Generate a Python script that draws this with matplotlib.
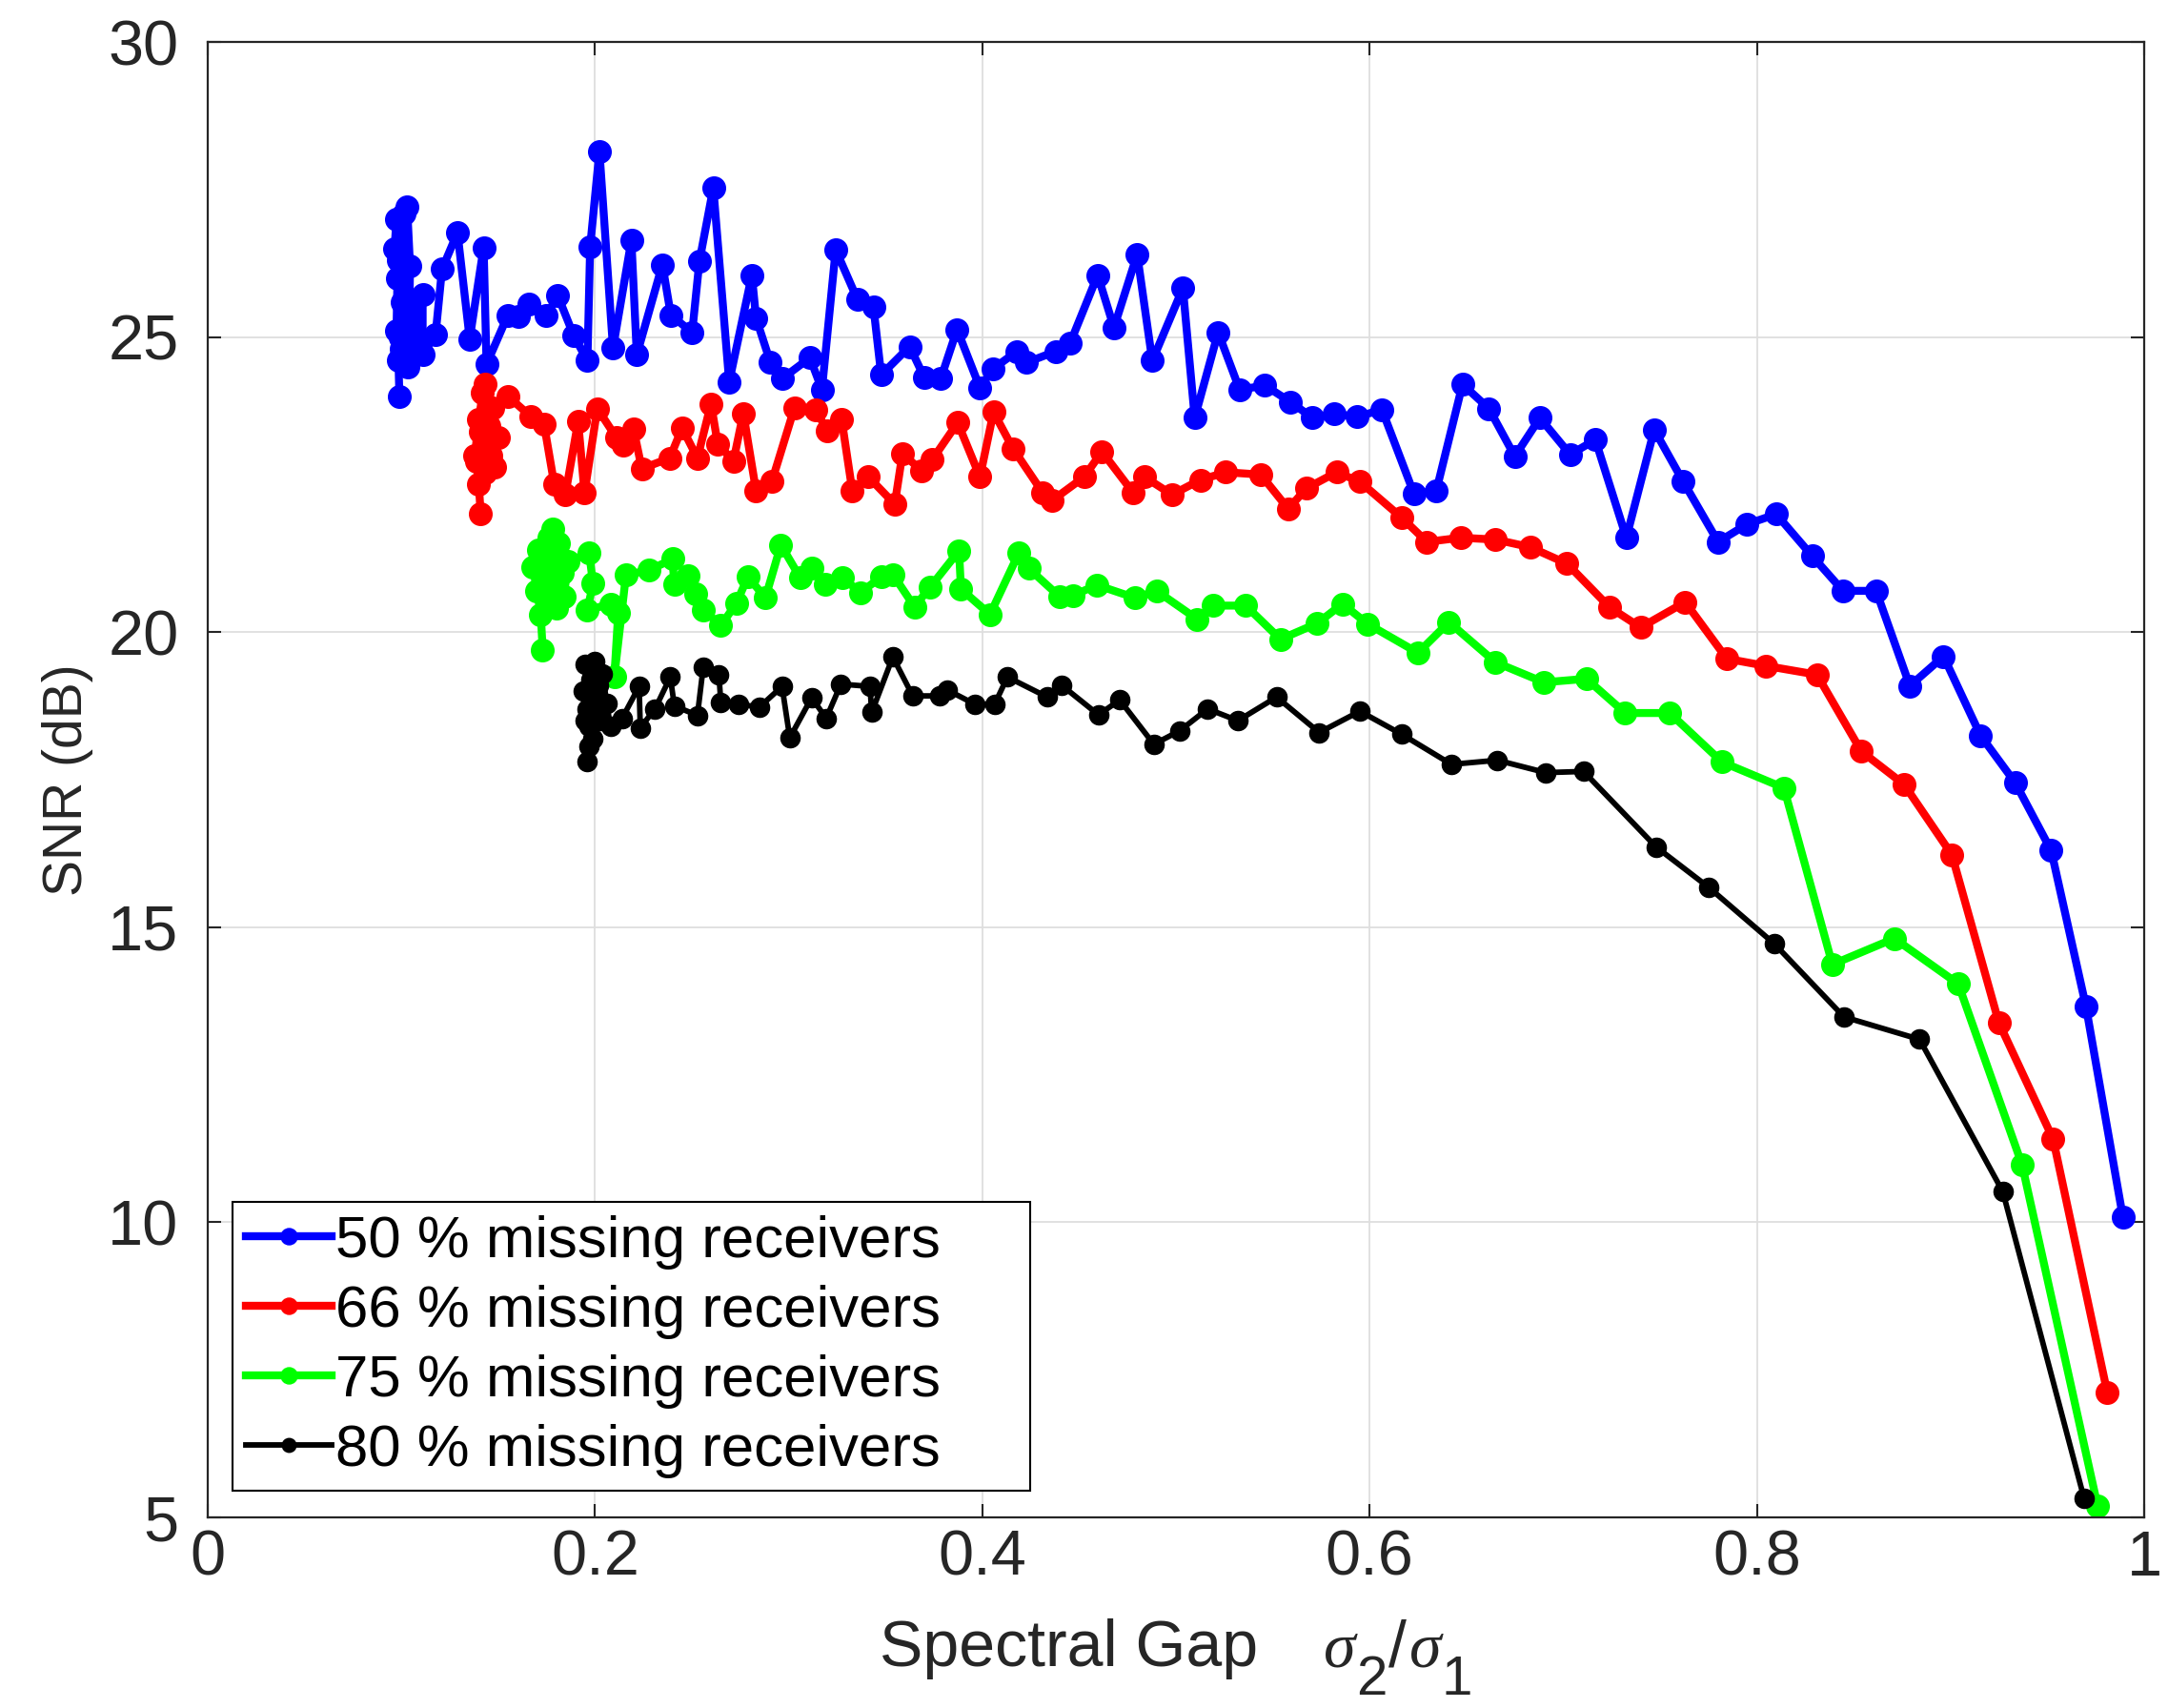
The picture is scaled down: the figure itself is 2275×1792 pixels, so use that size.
import numpy as np
import matplotlib
matplotlib.use("Agg")
from matplotlib import pyplot as plt

# SNR vs spectral gap for four rates of missing receivers
x50 = [0.099, 0.0985, 0.0975, 0.098, 0.0965, 0.0975, 0.0985, 0.0995, 0.1, 0.1005, 0.1015, 0.103,
       0.1045, 0.104, 0.102, 0.1035, 0.105, 0.106, 0.111, 0.111, 0.1177, 0.121, 0.129, 0.1353,
       0.1425, 0.144, 0.155, 0.1606, 0.166, 0.1749, 0.1808, 0.1891, 0.1961, 0.1975, 0.2023, 0.2093,
       0.2188, 0.2216, 0.2348, 0.2392, 0.2502, 0.2539, 0.2611, 0.2693, 0.281, 0.2832, 0.2906, 0.2968,
       0.311, 0.3172, 0.3243, 0.3355, 0.3438, 0.3478, 0.3625, 0.370, 0.3786, 0.387, 0.3988, 0.4054,
       0.418, 0.423, 0.438, 0.4454, 0.4596, 0.468, 0.480, 0.4878, 0.5036, 0.5097, 0.5218, 0.5329,
       0.546, 0.5592, 0.5706, 0.5816, 0.5937, 0.6064, 0.623, 0.6345, 0.648, 0.6616, 0.675, 0.688,
       0.7036, 0.7166, 0.7326, 0.747, 0.762, 0.780, 0.795, 0.81, 0.8286, 0.8445, 0.8616, 0.879,
       0.8964, 0.9155, 0.9334, 0.952, 0.970, 0.989]
snr50 = [24.0, 24.6, 25.1, 26.0, 26.5, 27.0, 26.3, 25.0, 24.8, 25.6, 27.1, 27.2,
         26.2, 25.2, 24.7, 24.5, 25.5, 24.9, 25.72, 24.7, 25.05, 26.15, 26.77, 24.97,
         26.52, 24.54, 25.37, 25.35, 25.56, 25.37, 25.7, 25.02, 24.6, 26.53, 28.15, 24.81,
         26.64, 24.7, 26.23, 25.37, 25.08, 26.28, 27.53, 24.24, 26.05, 25.32, 24.57, 24.3,
         24.65, 24.11, 26.48, 25.64, 25.51, 24.36, 24.84, 24.32, 24.30, 25.13, 24.14, 24.46,
         24.76, 24.57, 24.76, 24.9, 26.05, 25.16, 26.40, 24.6, 25.83, 23.63, 25.08, 24.11,
         24.18, 23.9, 23.63, 23.7, 23.65, 23.77, 22.34, 22.4, 24.2, 23.79, 22.98, 23.63,
         23.01, 23.26, 21.6, 23.43, 22.55, 21.53, 21.83, 22.0, 21.29, 20.7, 20.7, 19.09,
         19.59, 18.25, 17.45, 16.3, 13.65, 10.09]

x66 = [0.141, 0.140, 0.139, 0.141, 0.138, 0.140, 0.142, 0.144, 0.143, 0.145, 0.143, 0.146,
       0.148, 0.150, 0.147, 0.155, 0.167, 0.1737, 0.179, 0.1847, 0.1913, 0.1946, 0.2012, 0.211,
       0.2144, 0.2199, 0.2242, 0.2386, 0.245, 0.2529, 0.2599, 0.2634, 0.2715, 0.2766, 0.2832,
       0.2913, 0.303, 0.3141, 0.320, 0.3274, 0.3329, 0.3412, 0.3548, 0.3588, 0.3684, 0.3741,
       0.3873, 0.3988, 0.4058, 0.4159, 0.4313, 0.436, 0.4526, 0.4618, 0.478, 0.4838, 0.498,
       0.5126, 0.5258, 0.5438, 0.558, 0.5675, 0.583, 0.595, 0.6166, 0.6296, 0.647, 0.665,
       0.683, 0.702, 0.724, 0.74, 0.763, 0.7845, 0.8044, 0.831, 0.854, 0.876, 0.9007, 0.925,
       0.953, 0.981]
snr66 = [22.0, 22.5, 22.9, 23.4, 23.0, 23.6, 24.05, 23.2, 22.7, 23.5, 24.2, 23.0,
         22.8, 23.3, 23.8, 24.0, 23.65, 23.52, 22.5, 22.33, 23.57, 22.36, 23.79, 23.3,
         23.17, 23.44, 22.77, 22.95, 23.46, 22.95, 23.87, 23.19, 22.9, 23.71, 22.39,
         22.55, 23.8, 23.76, 23.41, 23.6, 22.39, 22.63, 22.17, 23.03, 22.74, 22.92,
         23.55, 22.63, 23.73, 23.11, 22.36, 22.23, 22.63, 23.06, 22.36, 22.63, 22.33,
         22.58, 22.71, 22.67, 22.09, 22.44, 22.71, 22.55, 21.94, 21.53, 21.6, 21.57,
         21.44, 21.16, 20.42, 20.08, 20.51, 19.55, 19.43, 19.28, 17.98, 17.42, 16.23, 13.38,
         11.41, 7.11]

x75 = [0.173, 0.172, 0.170, 0.168, 0.171, 0.174, 0.176, 0.178, 0.177, 0.175, 0.179, 0.181,
       0.183, 0.180, 0.184, 0.186, 0.197, 0.199, 0.196, 0.208, 0.212, 0.210, 0.216, 0.228,
       0.240, 0.241, 0.248, 0.252, 0.256, 0.265, 0.273, 0.279, 0.288, 0.296, 0.306, 0.312,
       0.319, 0.328, 0.337, 0.348, 0.354, 0.365, 0.373, 0.388, 0.389, 0.404, 0.419, 0.424,
       0.440, 0.447, 0.459, 0.479, 0.490, 0.511, 0.519, 0.536, 0.554, 0.573, 0.586, 0.599,
       0.625, 0.641, 0.665, 0.690, 0.712, 0.732, 0.755, 0.782, 0.814, 0.839, 0.871, 0.904,
       0.937, 0.976]
snr75 = [19.7, 20.3, 20.7, 21.1, 21.4, 20.9, 21.6, 21.75, 21.2, 20.5, 20.8, 21.5,
         21.0, 20.4, 20.6, 21.2, 21.34, 20.82, 20.37, 20.48, 20.32, 19.25, 20.97, 21.05,
         21.24, 20.81, 20.95, 20.65, 20.38, 20.11, 20.49, 20.94, 20.58, 21.48, 20.92, 21.08,
         20.81, 20.92, 20.67, 20.94, 20.97, 20.43, 20.76, 21.38, 20.73, 20.3, 21.35, 21.08,
         20.6, 20.62, 20.8, 20.58, 20.7, 20.22, 20.45, 20.45, 19.88, 20.15, 20.48, 20.14,
         19.65, 20.17, 19.49, 19.15, 19.21, 18.63, 18.63, 17.8, 17.36, 14.37, 14.81, 14.04,
         10.97, 5.19]

x80 = [0.196, 0.197, 0.195, 0.194, 0.196, 0.195, 0.198, 0.197, 0.199, 0.200, 0.201, 0.199,
       0.202, 0.203, 0.204, 0.206, 0.208, 0.214, 0.2228, 0.2234, 0.231, 0.2389, 0.241, 0.2529,
       0.2559, 0.264, 0.265, 0.274, 0.2849, 0.2966, 0.3006, 0.3119, 0.3194, 0.327, 0.342,
       0.3429, 0.3538, 0.3641, 0.3782, 0.382, 0.3961, 0.4064, 0.413, 0.4336, 0.441, 0.460,
       0.471, 0.4886, 0.502, 0.5164, 0.532, 0.552, 0.574, 0.595, 0.6166, 0.6423, 0.666,
       0.691, 0.7105, 0.748, 0.775, 0.809, 0.845, 0.884, 0.927, 0.969]
snr80 = [17.8, 18.06, 18.5, 19.0, 18.7, 19.45, 19.2, 18.4, 18.9, 19.5, 18.6, 18.2,
         19.1, 18.5, 19.3, 18.8, 18.4, 18.54, 19.08, 18.38, 18.70, 19.24, 18.75, 18.59,
         19.41, 19.27, 18.81, 18.78, 18.73, 19.08, 18.21, 18.89, 18.54, 19.12, 19.08,
         18.64, 19.58, 18.92, 18.92, 19.02, 18.78, 18.78, 19.24, 18.9, 19.1, 18.6,
         18.85, 18.1, 18.33, 18.7, 18.5, 18.9, 18.3, 18.66, 18.27, 17.76, 17.83,
         17.62, 17.64, 16.36, 15.68, 14.72, 13.48, 13.1, 10.52, 5.32]

labels = ["50 % missing receivers", "66 % missing receivers",
          "75 % missing receivers", "80 % missing receivers"]
xticks = [0, 0.2, 0.4, 0.6, 0.8, 1]
xticklabels = ["0", "0.2", "0.4", "0.6", "0.8", "1"]
yticks = [5, 10, 15, 20, 25, 30]

plt.rcParams["font.family"] = ["Liberation Sans", "DejaVu Sans"]

axcol = "#262626"
W, H = 2275, 1792

fig = plt.figure(figsize=(W / 100, H / 100), dpi=100)
ax = fig.add_axes([0.0958, 0.1116, 0.8932, 0.8638])

ax.plot(x50, snr50, "-o", color="#0000ff", lw=6, ms=17, label=labels[0])
ax.plot(x66, snr66, "-o", color="#ff0000", lw=6, ms=17, label=labels[1])
ax.plot(x75, snr75, "-o", color="#00ff00", lw=6, ms=17, label=labels[2])
ax.plot(x80, snr80, "-o", color="#000000", lw=4.2, ms=14.5, label=labels[3])

ax.set_xlim(0, 1)
ax.set_ylim(5, 30)
ax.set_xticks(xticks)
ax.set_xticklabels(xticklabels)
ax.set_yticks(yticks)

ax.grid(True, color="#dedede", lw=1.3)
ax.set_axisbelow(True)
for s in ax.spines.values():
    s.set_color(axcol)
    s.set_linewidth(1.6)
ax.tick_params(axis="both", direction="in", length=10, width=1.5, colors=axcol,
               labelsize=48, top=True, right=True)
ax.tick_params(axis="x", pad=9)
ax.tick_params(axis="y", pad=22)

ax.set_ylabel("SNR (dB)", fontsize=41, color=axcol, labelpad=11)

leg = ax.legend(loc="lower left", bbox_to_anchor=(0.0129, 0.0178, 0.412, 0.1),
                mode="expand", fontsize=44.5, handlelength=1.46, handletextpad=0.07,
                labelspacing=0.26, borderpad=0.22, borderaxespad=0, markerscale=0.72,
                fancybox=False, framealpha=1, edgecolor="black")
leg.get_frame().set_linewidth(1.5)

# x label: "Spectral Gap   sigma_2/sigma_1" in MATLAB tex style
r = fig.canvas.get_renderer()
pieces = [("Spectral Gap", "Liberation Sans", "normal", 49, 0, 69),
          ("\u03c3", "Liberation Serif", "italic", 49, 0, 0),
          ("2", "Liberation Sans", "normal", 42, -30, 2),
          ("/", "Liberation Sans", "normal", 49, 0, 3),
          ("\u03c3", "Liberation Serif", "italic", 49, 0, 0),
          ("1", "Liberation Sans", "normal", 42, -30, 0)]
texts = []
total = 0
for s, fam, sty, fs, dy, gap in pieces:
    t = fig.text(0, 0, s, family=fam, style=sty, fontsize=fs, color=axcol,
                 ha="left", va="baseline")
    w = t.get_window_extent(renderer=r).width
    texts.append((t, w, dy, gap))
    total += w + gap
xc = (ax.get_position().x0 + ax.get_position().x1) / 2 * W
base = 44
xpos = xc - total / 2
for t, w, dy, gap in texts:
    t.set_position((xpos / W, (base + dy) / H))
    xpos += w + gap

fig.savefig("out.png", dpi=100)
